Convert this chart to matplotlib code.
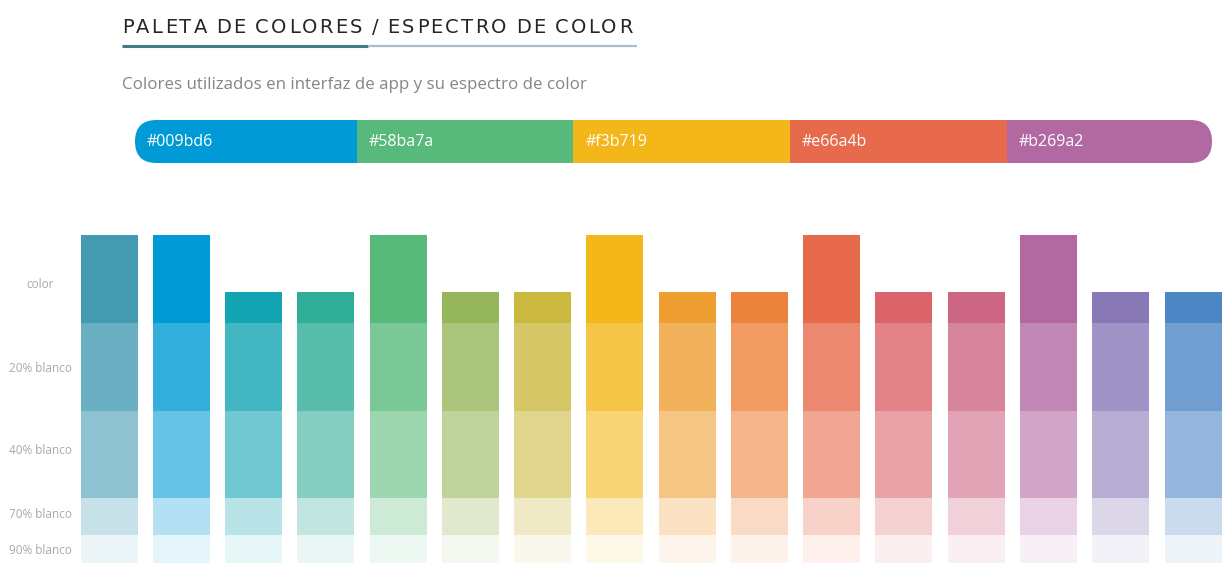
"""Paleta de colores / espectro de color"""
import matplotlib
matplotlib.use("Agg")
import matplotlib.pyplot as plt
import matplotlib.colors as mcolors
from matplotlib.patches import FancyBboxPatch
import numpy as np

# ── datos ──────────────────────────────────────────────
palette_hex = ["#009bd6", "#58ba7a", "#f3b719", "#e66a4b", "#b269a2"]

spectrum_colors = [
    "#439ab1", "#009bd6", "#13a4b2", "#30ad96", "#58ba7a", "#96b65c",
    "#cbb93f", "#f3b719", "#ef9e32", "#ec833c", "#e66a4b", "#da6469",
    "#cd6684", "#b269a2", "#8878b6", "#4d86c5",
]
# columnas altas = colores principales
spectrum_tall = [1, 1, 0, 0, 1, 0, 0, 1, 0, 0, 1, 0, 0, 1, 0, 0]

band_labels = ["color", "20% blanco", "40% blanco", "70% blanco", "90% blanco"]
band_white = [0.0, 0.2, 0.4, 0.7, 0.9]

title = "PALETA DE COLORES / ESPECTRO DE COLOR"
subtitle = "Colores utilizados en interfaz de app y su espectro de color"

# ── layout (pixeles) ───────────────────────────────────
W, H = 1223, 583
COL_X0, COL_STEP, COL_W = 109, 72.27, 57
BAND_H = [88, 88, 87, 37, 28]          # alto de cada franja
BAND_TOP = 323 - 88                     # top de la franja "color" alta
SHORT_COLOR_H = 31
BAR_X, BAR_Y, BAR_W, BAR_H = 135, 120, 1077, 43
TRACKING = 2.3
SPACE_W = 7.0


def tint(c, f):
    rgb = np.array(mcolors.to_rgb(c))
    return tuple(rgb * (1 - f) + f)


fig = plt.figure(figsize=(W / 100, H / 100), dpi=100)
ax = fig.add_axes([0, 0, 1, 1])
ax.set_xlim(0, W)
ax.set_ylim(H, 0)
ax.axis("off")
renderer = fig.canvas.get_renderer()

# título con espaciado entre letras
x = 122
for ch in title:
    if ch == " ":
        x += SPACE_W
        continue
    t = ax.text(x, 33, ch, fontsize=14, color="#252525", ha="left",
                va="baseline", family="DejaVu Sans")
    x += t.get_window_extent(renderer).width + TRACKING

ax.plot([122, 368], [46, 46], color="#3f7c86", lw=2.2, solid_capstyle="butt")
ax.plot([368, 637], [46, 46], color="#aebdca", lw=1.6, solid_capstyle="butt")
ax.text(122, 85, subtitle, fontsize=12.2, color="#858585", ha="left", va="center",
        family="Open Sans")

# barra de paleta con extremos redondeados
rounded = FancyBboxPatch((BAR_X, BAR_Y), BAR_W, BAR_H,
                         boxstyle=f"round,pad=0,rounding_size={BAR_H / 2}",
                         facecolor="none", edgecolor="none")
ax.add_patch(rounded)
lefts = BAR_X + 5 + np.arange(len(palette_hex)) * 216.7
lefts[0] = BAR_X - 5
widths = np.full(len(palette_hex), 216.7)
widths[0] += 10
widths[-1] += 20
segs = ax.barh(BAR_Y + BAR_H / 2, widths, left=lefts, height=BAR_H,
               color=palette_hex, linewidth=0, align="center")
for s in segs:
    s.set_clip_path(rounded)
for i, hx in enumerate(palette_hex):
    lx = max(lefts[i], BAR_X) + 12
    ax.text(lx, BAR_Y + BAR_H / 2 + 1, hx, color="white", fontsize=11.5,
            ha="left", va="center", family="Open Sans")

# espectro
xs = COL_X0 + np.arange(len(spectrum_colors)) * COL_STEP
for b, f in enumerate(band_white):
    top = BAND_TOP + sum(BAND_H[:b])
    heights = []
    bottoms = []
    for tall in spectrum_tall:
        if b == 0 and not tall:
            bottoms.append(top + BAND_H[0] - SHORT_COLOR_H)
            heights.append(SHORT_COLOR_H)
        else:
            bottoms.append(top)
            heights.append(BAND_H[b])
    cols = [tint(c, f) for c in spectrum_colors]
    ax.bar(xs, heights, bottom=bottoms, width=COL_W, color=cols, linewidth=0)

# etiquetas de franjas
label_y = [285, 368, 450, 515, 550]
for lab, ly in zip(band_labels, label_y):
    ax.text(40, ly, lab, fontsize=8.5, color="#a8a8a8", ha="center", va="center",
            family="Open Sans")

fig.savefig("out.png", dpi=100, facecolor="white")
